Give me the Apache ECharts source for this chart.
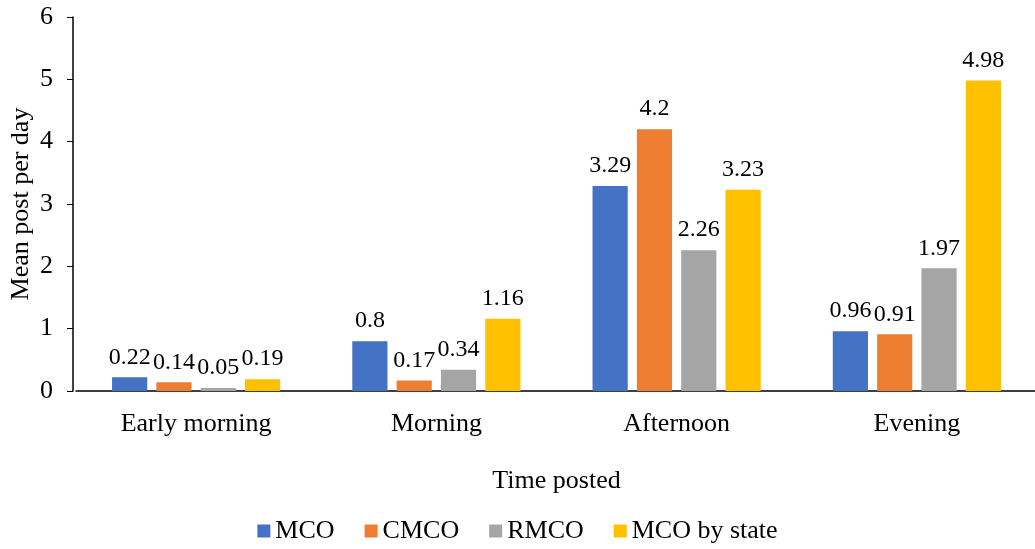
<!DOCTYPE html>
<html>
<head>
<meta charset="utf-8">
<script src="https://cdn.jsdelivr.net/npm/echarts@6/dist/echarts.min.js"></script>
<style>
  html, body { margin: 0; padding: 0; background: #fff; }
  #chart { width: 1035px; height: 549px; }
</style>
</head>
<body>
<div id="chart"></div>
<script>
const categories = ["Early morning", "Morning", "Afternoon", "Evening"];
const mco = [0.22, 0.8, 3.29, 0.96];
const cmco = [0.14, 0.17, 4.2, 0.91];
const rmco = [0.05, 0.34, 2.26, 1.97];
const mcoByState = [0.19, 1.16, 3.23, 4.98];

const chart = echarts.init(document.getElementById("chart"));
const font = "'Liberation Serif', 'Times New Roman', serif";

function barSeries(name, data, color) {
  return {
    name: name,
    type: "bar",
    data: data,
    barGap: "26%",
    barCategoryGap: "30%",
    itemStyle: { color: color },
    label: {
      show: true,
      position: "top",
      distance: 8,
      color: "#000",
      fontFamily: font,
      fontSize: 24,
    },
  };
}

chart.setOption({
  textStyle: { fontFamily: font },
  animation: false,
  legend: {
    bottom: 0,
    left: "center",
    itemWidth: 13,
    itemHeight: 13,
    itemGap: 30,
    icon: "rect",
    textStyle: { fontFamily: font, fontSize: 26, color: "#000" },
    data: ["MCO", "CMCO", "RMCO", "MCO by state"],
  },
  grid: { left: 76, right: -2, top: 17, bottom: 158, outerBoundsMode: "none" },
  xAxis: {
    type: "category",
    data: categories,
    name: "Time posted",
    nameLocation: "middle",
    nameGap: 77,
    nameMoveOverlap: false,
    nameTextStyle: { fontFamily: font, fontSize: 26, color: "#000" },
    axisLine: { lineStyle: { color: "#000", width: 1.5 } },
    axisTick: { show: false },
    axisLabel: { fontFamily: font, fontSize: 26, color: "#000", margin: 20 },
  },
  yAxis: {
    type: "value",
    min: 0,
    max: 6,
    interval: 1,
    offset: 3,
    name: "Mean post per day",
    nameLocation: "middle",
    nameGap: 39,
    nameMoveOverlap: false,
    nameTextStyle: { fontFamily: font, fontSize: 26, color: "#000" },
    axisLine: { show: true, lineStyle: { color: "#000", width: 1.5 } },
    axisTick: { show: true, length: 6, lineStyle: { color: "#000" } },
    splitLine: { show: false },
    axisLabel: { fontFamily: font, fontSize: 26, color: "#000", margin: 20 },
  },
  series: [
    barSeries("MCO", mco, "#4472C4"),
    barSeries("CMCO", cmco, "#ED7D31"),
    barSeries("RMCO", rmco, "#A5A5A5"),
    barSeries("MCO by state", mcoByState, "#FFC000"),
  ],
});
</script>
</body>
</html>
